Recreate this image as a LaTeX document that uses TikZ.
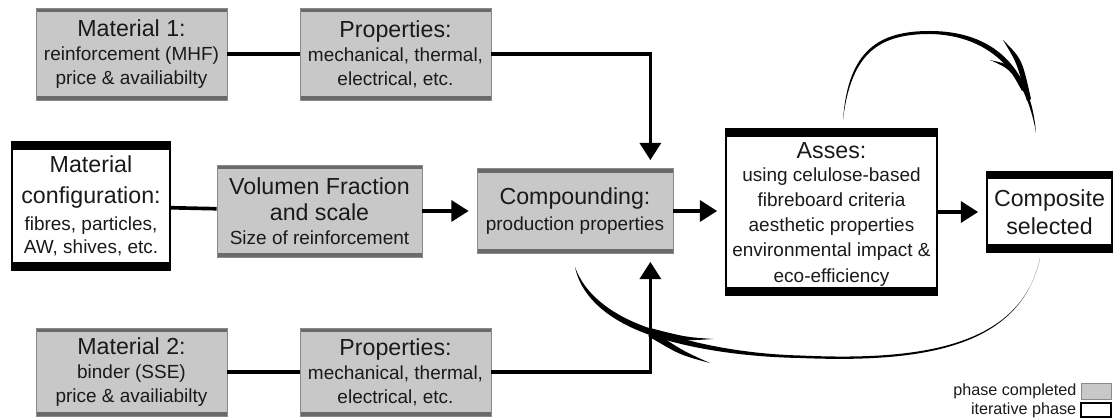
\documentclass[tikz,border=0pt]{standalone}
\usepackage{fontspec}
\setmainfont{Liberation Sans}
\usetikzlibrary{arrows.meta, positioning}

\definecolor{donefill}{HTML}{C8C8C8}
\definecolor{donebar}{HTML}{6A6A6A}
\definecolor{doneedge}{HTML}{8A8A8A}
\definecolor{inktext}{HTML}{1A1A1A}

\newcommand{\boxhead}{\fontsize{16.5}{20}\selectfont}
\newcommand{\boxtext}{\fontsize{13.5}{17}\selectfont}

\begin{document}
\begin{tikzpicture}[
    x=0.25mm, y=0.25mm,
    every node/.style={text=inktext},
    >={Triangle[length=4.3mm, width=5.2mm]},
    done/.style={rectangle, draw=doneedge, line width=0.5pt, fill=donefill,
        inner sep=0pt, align=center, font=\boxtext,
        path picture={
            \fill[donebar] (path picture bounding box.north west) rectangle ([yshift=-1.1mm]path picture bounding box.north east);
            \fill[donebar] (path picture bounding box.south west) rectangle ([yshift=1.1mm]path picture bounding box.south east);
        }},
    iter/.style={rectangle, draw=black, line width=1.2pt, fill=white,
        inner sep=0pt, align=center, font=\boxtext,
        path picture={
            \fill[black] (path picture bounding box.north west) rectangle ([yshift=-2mm]path picture bounding box.north east);
            \fill[black] (path picture bounding box.south west) rectangle ([yshift=2mm]path picture bounding box.south east);
        }},
    link/.style={line width=2.6pt, black},
    flow/.style={link, ->, shorten >=2mm},
    legendtext/.style={font=\fontsize{11.5}{13}\selectfont, inner sep=0pt}
]
\useasboundingbox (0,0) rectangle (1113,419);

% --- Raw materials and their properties ---
\node[done, minimum width=47.75mm, minimum height=23mm] (mat1) at (131.5,365)
    {{\boxhead Material 1:}\\reinforcement (MHF)\\price \& availiabilty};
\node[done, minimum width=47.75mm, minimum height=23mm] (prop1) at (395.5,365)
    {{\boxhead Properties:}\\mechanical, thermal,\\electrical, etc.};
\node[done, minimum width=47.75mm, minimum height=22mm] (mat2) at (131.5,47)
    {{\boxhead Material 2:}\\binder (SSE)\\price \& availiabilty};
\node[done, minimum width=47.75mm, minimum height=22mm] (prop2) at (395.5,47)
    {{\boxhead Properties:}\\mechanical, thermal,\\electrical, etc.};

% --- Main line ---
\node[iter, minimum width=39.5mm, minimum height=32mm] (config) at (91,213)
    {{\boxhead Material}\\[5pt]{\boxhead configuration:}\\[2pt]fibres, particles,\\AW, shives, etc.};
\node[done, minimum width=51.25mm, minimum height=23mm] (vol) at (319.5,208)
    {{\boxhead Volumen Fraction}\\[2pt]{\boxhead and scale}\\Size of reinforcement};
\node[done, minimum width=49mm, minimum height=21.25mm] (comp) at (575,208)
    {{\boxhead Compounding:}\\[1pt]production properties};
\node[iter, minimum width=52.75mm, minimum height=41.5mm] (asses) at (831.5,207) {};
\node[align=center, font=\boxtext, inner sep=0pt] (assestxt) at ([yshift=-0.5mm]asses.center)
    {{\boxhead Asses:}\\using celulose-based\\[0.8pt]fibreboard criteria\\[0.8pt]aesthetic properties\\[0.8pt]environmental impact \&\\[0.8pt]eco-efficiency};
\node[iter, minimum width=31.25mm, minimum height=20.25mm, font=\boxhead] (compo) at (1049.5,207)
    {Composite\\selected};

% --- Connectors ---
\draw[link] (mat1) -- (prop1);
\draw[link] (mat2) -- (prop2);
\draw[link] (config) -- (vol);
\draw[flow] (prop1.east) -| ([xshift=-5.75mm]comp.north east);
\draw[flow] (prop2.east) -| ([xshift=-5.75mm]comp.south east);
\draw[flow] (vol) -- (comp);
\draw[flow] (comp.east) -- (comp.east -| asses.west);
\draw[flow] (asses.east |- compo.west) -- (compo.west);

% --- Brush stroke over the top, into the selected composite ---
\fill (843,299) .. controls (848,370) and (880,388) .. (930,388)
    .. controls (985,388) and (1030,360) .. (1036,286)
    .. controls (1024,357) and (980,384) .. (930,385)
    .. controls (881,385) and (851,368) .. (843,299) -- cycle;
\fill (1003,379) .. controls (1022,360) .. (1031,320)
    -- (1027,318) .. controls (1017,356) .. (1003,379) -- cycle;
\fill (990,359) .. controls (1010,350) .. (1022,328)
    -- (1027,332) .. controls (1012,354) .. (990,359) -- cycle;

% --- Brush stroke underneath, back to compounding ---
\fill (1040,161) .. controls (1020,70) and (920,56) .. (800,61)
    .. controls (745,62) and (690,70) .. (650,84)
    .. controls (615,96) and (582,118) .. (575,152)
    .. controls (586,121) and (618,101) .. (652,90)
    .. controls (692,75) and (745,65) .. (800,63.5)
    .. controls (920,58) and (1021,72) .. (1040,161) -- cycle;
\fill (713,80) .. controls (685,82) .. (650,91)
    -- (648,85) .. controls (683,78) .. (713,80) -- cycle;
\fill (710,56) .. controls (680,64) .. (648,83)
    -- (653,88) .. controls (683,68) .. (710,56) -- cycle;

% --- Legend ---
\node[draw=doneedge, fill=donefill, minimum width=7.5mm, minimum height=4mm, inner sep=0pt] (legdone) at (1096,28) {};
\node[draw=black, line width=0.8pt, fill=white, minimum width=7.5mm, minimum height=3.5mm, inner sep=0pt] (legiter) at (1096,9) {};
\node[legendtext, left=1mm of legdone] (legdonetxt) {phase completed};
\node[legendtext, left=1mm of legiter] (legitertxt) {iterative phase};

\end{tikzpicture}
\end{document}
